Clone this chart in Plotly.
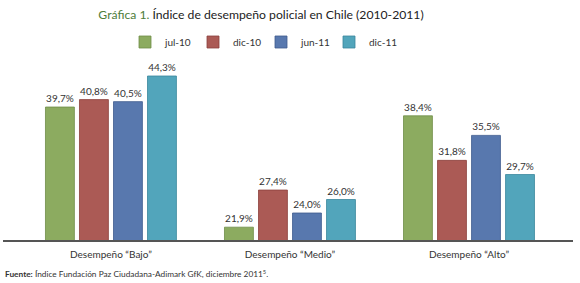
import plotly.graph_objects as go

categories = ["Desempeño “Bajo”", "Desempeño “Medio”", "Desempeño “Alto”"]
series_names = ["jul-10", "dic-10", "jun-11", "dic-11"]
jul10 = [39.7, 21.9, 38.4]
dic10 = [40.8, 27.4, 31.8]
jun11 = [40.5, 24.0, 35.5]
dic11 = [44.3, 26.0, 29.7]
colors = ["#8cab60", "#ab5a55", "#5878ae", "#52a5bb"]
edge_colors = ["#6f8d47", "#8c403c", "#3f5c8e", "#3a879c"]

values = [jul10, dic10, jun11, dic11]

FONT = "Lato, sans-serif"

def fmt(v):
    return f"{v:.1f}%".replace(".", ",")

fig = go.Figure()
for name, vals, col, edge in zip(series_names, values, colors, edge_colors):
    fig.add_trace(go.Bar(
        x=categories, y=vals, name=name,
        marker=dict(color=col, line=dict(width=0.8, color=edge)),
        text=[fmt(v) for v in vals], textposition="outside",
        textfont=dict(size=10, color="#333333", family=FONT),
        cliponaxis=False,
    ))

W, H = 580, 283
L, R, T, B = 3, 7, 60, 43
CX = 261  # horizontal centre of title and legend, in pixels
fig.update_layout(
    width=W, height=H,
    margin=dict(l=L, r=R, t=T, b=B, pad=0, autoexpand=False),
    paper_bgcolor="white", plot_bgcolor="white",
    barmode="group", bargap=0.24, bargroupgap=0.15,
    font=dict(family=FONT, color="#333333"),
    title=dict(
        text="<span style='color:#4e7d3a'>Gráfica 1.</span> Índice de desempeño policial en Chile (2010-2011)",
        x=CX / W, xanchor="center", y=1 - 15 / H, yanchor="middle",
        font=dict(size=12.2, color="#222222", family=FONT),
    ),
    legend=dict(
        orientation="h", x=(CX - L) / (W - L - R), xanchor="center",
        y=1 + 18 / 180, yanchor="middle",
        font=dict(size=10, color="#333333", family=FONT), itemwidth=30, traceorder="normal",
        entrywidth=23, entrywidthmode="pixels",
        bgcolor="rgba(0,0,0,0)",
    ),
    xaxis=dict(
        range=[-0.603, 2.581], showline=True, linecolor="#555555", linewidth=1.5,
        ticks="", tickfont=dict(size=10, color="#333333", family=FONT), showgrid=False,
        ticklabelstandoff=4, automargin=False,
    ),
    yaxis=dict(range=[20, 46.67], visible=False, showgrid=False, automargin=False),
    annotations=[dict(
        text="<b>Fuente:</b> Índice Fundación Paz Ciudadana-Adimark GfK, diciembre 2011<sup>5</sup>.",
        xref="paper", yref="paper", x=0, y=-(273 - 240) / 180,
        xanchor="left", yanchor="middle", showarrow=False,
        font=dict(size=8.3, color="#333333", family=FONT),
    )],
)

fig.write_html("out.html", config={"displayModeBar": False},
               post_script="document.body.style.margin='0';")
